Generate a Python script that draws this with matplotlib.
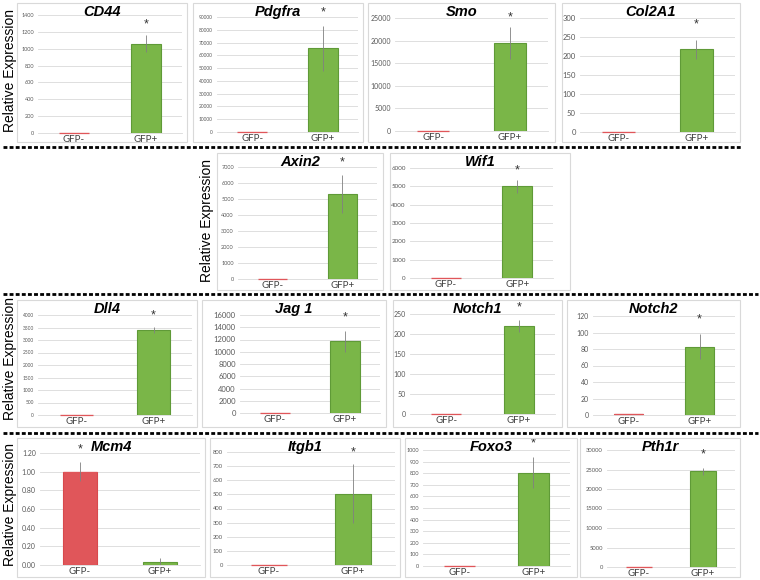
import matplotlib

matplotlib.use("Agg")
import matplotlib.pyplot as plt  # noqa: E402
import numpy as np  # noqa: E402
from matplotlib.lines import Line2D  # noqa: E402
from matplotlib.patches import Rectangle  # noqa: E402

W, H = 760, 580

# ---- data ----
genes = ["CD44", "Pdgfra", "Smo", "Col2A1", "Axin2", "Wif1", "Dll4", "Jag 1",
         "Notch1", "Notch2", "Mcm4", "Itgb1", "Foxo3", "Pth1r"]
groups = ["GFP-", "GFP+"]
gfp_neg = [1, 1, 1, 1, 1, 1, 1, 1, 1, 1, 1.00, 1, 1, 1]
gfp_pos = [1060, 65500, 19500, 218, 5300, 5000, 3400, 11700, 220, 83, 0.03, 505, 805, 24500]
err_neg = [0, 0, 0, 0, 0, 0, 0, 0, 0, 0, 0.10, 0, 0, 0]
err_pos = [100, 17500, 3600, 25, 1200, 350, 110, 1700, 15, 15, 0.05, 210, 135, 800]
y_max = [1400, 90000, 25000, 300, 7000, 6000, 4000, 16000, 250, 120, 1.2, 800, 1000, 30000]
y_step = [200, 10000, 5000, 50, 1000, 1000, 500, 2000, 50, 20, 0.2, 100, 100, 5000]
star_group = [1, 1, 1, 1, 1, 1, 1, 1, 1, 1, 0, 1, 1, 1]
star_y = [1290, 93900, 25200, 284, 7300, 5890, 4000, 15670, 267, 116, 1.24, 800, 1060, 28970]

# ---- layout in pixels ----
# chart box (x0, y0, x1, y1) and plot area (x0, x1, y of top tick, y of zero)
boxes = [(17, 3, 187, 142), (193, 3, 363, 142), (368, 3, 555, 142), (562, 3, 740, 142),
         (217, 153, 383, 290), (390, 153, 570, 290),
         (17, 300, 197, 427), (202, 300, 386, 427), (393, 300, 562, 427), (567, 300, 740, 427),
         (17, 438, 205, 577), (210, 438, 400, 577), (405, 438, 577, 577), (580, 438, 740, 577)]
plots = [(38, 182, 15, 133), (217, 358, 17, 132), (395, 548, 18, 131), (580, 735, 18, 132),
         (238, 377, 167, 279), (410, 553, 168, 278),
         (38, 192, 315, 415), (240, 380, 315, 413), (410, 555, 314, 414), (593, 735, 316, 415),
         (40, 200, 453, 565), (227, 395, 452, 565), (423, 570, 450, 566), (607, 735, 450, 567)]
tick_size = [4, 3.5, 5, 5.5, 4, 4.5, 3.5, 5.5, 5, 5, 5, 4.2, 4, 4.2]
ylabel_pos = [(10, 71), (207, 220), (10, 359), (10, 505)]
dash_rows = [(147, 3, 742), (294, 3, 758), (433, 3, 758)]
BAR_W = 0.42

RED, RED_EDGE = "#e0565a", "#d8494d"
GREEN, GREEN_EDGE = "#7ab648", "#5f9a37"
GRID = "#d9d9d9"

plt.rcParams["font.family"] = ["Liberation Sans", "DejaVu Sans"]
fig = plt.figure(figsize=(W / 100, H / 100), dpi=100)
fig.patch.set_facecolor("white")


def fx(x):
    return x / W


def fy(y):
    return 1 - y / H


for i, gene in enumerate(genes):
    bx0, by0, bx1, by1 = boxes[i]
    fig.add_artist(Rectangle((fx(bx0), fy(by1)), (bx1 - bx0) / W, (by1 - by0) / H,
                             transform=fig.transFigure, fill=False, ec=GRID, lw=0.8))
    px0, px1, ptop, pzero = plots[i]
    ax = fig.add_axes([fx(px0), fy(pzero), (px1 - px0) / W, (pzero - ptop) / H])
    ax.set_xlim(-0.5, 1.5)
    ax.set_ylim(0, y_max[i])
    ticks = np.arange(0, y_max[i] + y_step[i] / 2, y_step[i])
    ax.set_yticks(ticks)
    if y_max[i] < 10:
        ax.set_yticklabels([f"{t:.2f}" for t in ticks])
    else:
        ax.set_yticklabels([f"{t:.0f}" for t in ticks])
    ax.yaxis.grid(True, color=GRID, lw=0.6)
    ax.set_axisbelow(True)
    for s in ax.spines.values():
        s.set_visible(False)
    ax.spines["bottom"].set_visible(True)
    ax.spines["bottom"].set_color(GRID)
    ax.spines["bottom"].set_linewidth(0.6)
    ax.bar([0, 1], [gfp_neg[i], gfp_pos[i]], width=BAR_W,
           color=[RED, GREEN], edgecolor=[RED_EDGE, GREEN_EDGE], lw=0.8, zorder=3,
           yerr=[err_neg[i], err_pos[i]],
           error_kw=dict(ecolor="#808080", elinewidth=0.6, capsize=0, zorder=4))
    # the near-zero GFP- bar still shows as a thin red line at its top
    ax.plot([-BAR_W / 2, BAR_W / 2], [gfp_neg[i], gfp_neg[i]], color=RED, lw=0.9,
            zorder=3.5, solid_capstyle="butt", clip_on=False)
    ax.set_xticks([0, 1], groups)
    ax.tick_params(axis="y", length=0, labelsize=tick_size[i], colors="#595959", pad=3)
    ax.tick_params(axis="x", length=0, labelsize=7, colors="#404040", pad=1.5)
    for lab in ax.get_yticklabels() + ax.get_xticklabels():
        lab.set_fontfamily(["Lato", "DejaVu Sans"])
    ax.text(star_group[i], star_y[i], "*", ha="center", va="center",
            fontsize=9, color="#333333", clip_on=False)
    fig.text(fx((bx0 + bx1) / 2), fy(by0 + 9), gene, ha="center", va="center",
             fontsize=10.5, fontweight="bold", fontstyle="italic", color="black")

for x, y in ylabel_pos:
    fig.text(fx(x), fy(y), "Relative Expression", rotation=90, ha="center",
             va="center", fontsize=10, color="black")

for y, x0, x1 in dash_rows:
    fig.add_artist(Line2D([fx(x0), fx(x1)], [fy(y), fy(y)], transform=fig.transFigure,
                          color="black", lw=2.0, dashes=(1.4, 0.8)))

fig.savefig("out.png", dpi=100)
